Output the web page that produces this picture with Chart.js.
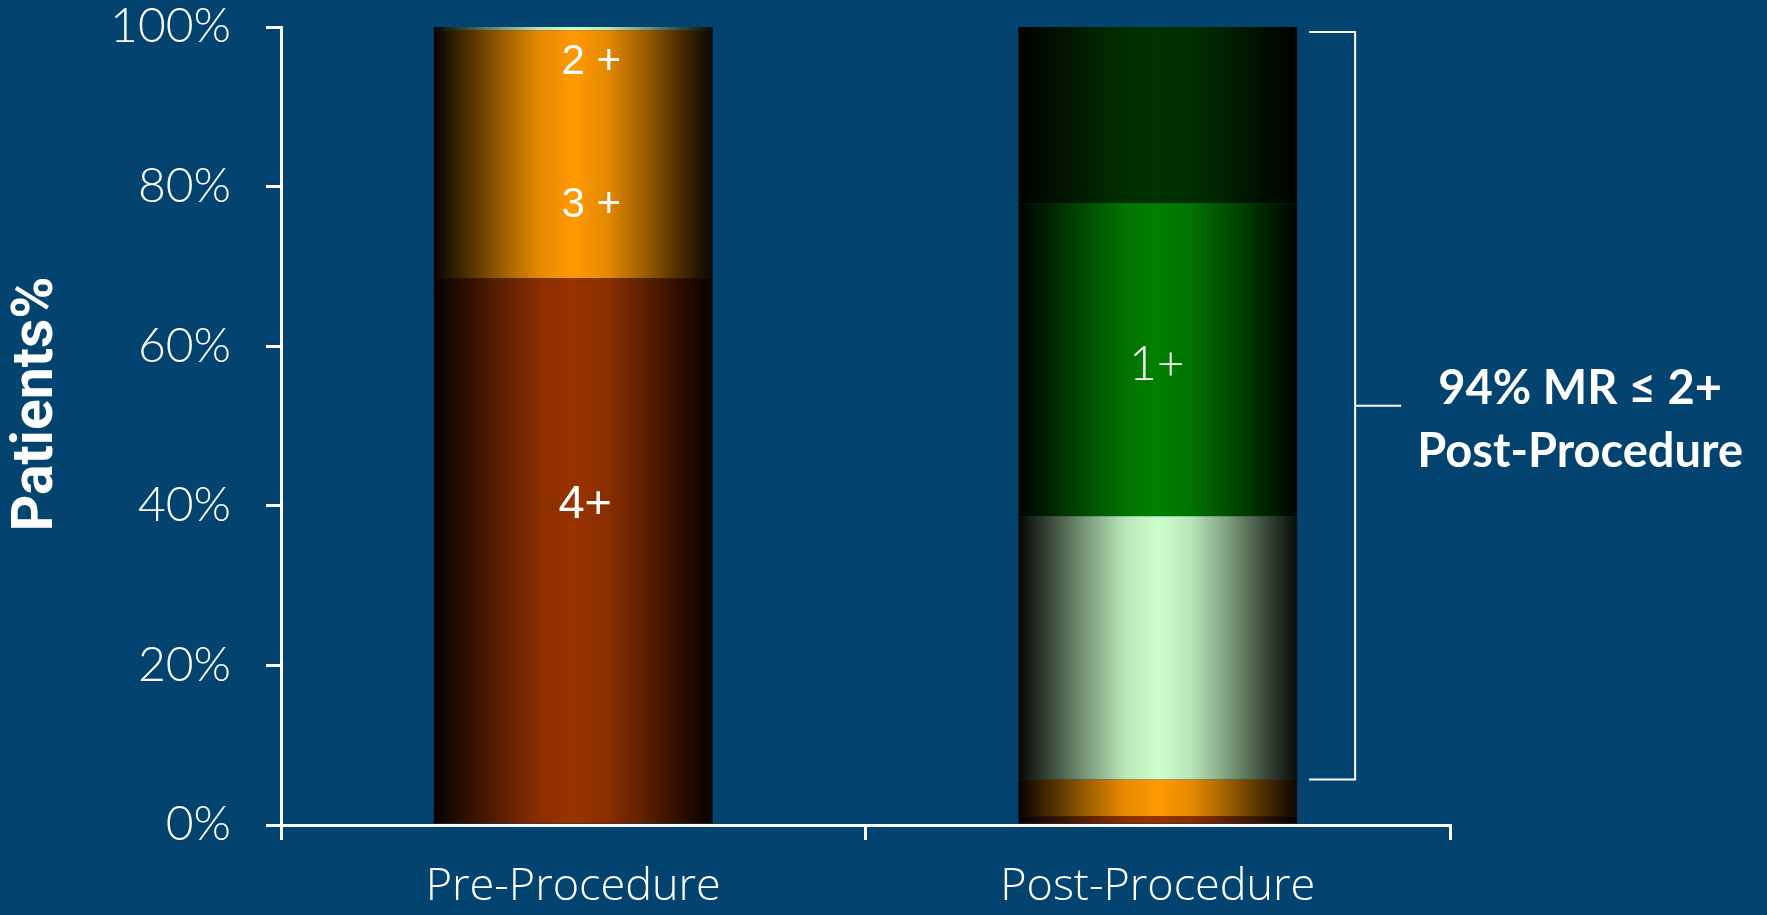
<!DOCTYPE html>
<html>
<head>
<meta charset="utf-8">
<script src="https://cdn.jsdelivr.net/npm/chart.js@4.4.1/dist/chart.umd.min.js"></script>
<style>
  html, body { margin: 0; padding: 0; background: #02436f; }
  #wrap { width: 1767px; height: 915px; }
</style>
</head>
<body>
<div id="wrap"><canvas id="c" width="1767" height="915"></canvas></div>
<script>
// MR grade distribution, % of patients, per stage
const categories = ['Pre-Procedure', 'Post-Procedure'];
const gradeNames = ['4+', '3+', '2+', '1+', '0'];
const mr4 = [68.5, 1.1];
const mr3 = [31.1, 4.6];
const mr2 = [0.4, 33.0];
const mr1 = [0, 39.2];
const mr0 = [0, 22.1];
const yTickValues = [0, 20, 40, 60, 80, 100];

const gradeColors = ['#993300', '#ff9900', '#ccffcc', '#008000', '#003300'];
const BAR_PCT = 0.477;

// cylinder-like shading across each bar: [position, brightness]
const shade = [[0, 0.0], [0.04, 0.12], [0.12, 0.3], [0.25, 0.62], [0.38, 0.9],
               [0.5, 1], [0.62, 0.9], [0.75, 0.62], [0.88, 0.3], [0.96, 0.12], [1, 0.05]];

function hexToRgb(h) {
  const n = parseInt(h.slice(1), 16);
  return [(n >> 16) & 255, (n >> 8) & 255, n & 255];
}

function barFill(ctx) {
  const chart = ctx.chart;
  const base = gradeColors[ctx.datasetIndex];
  const xs = chart.scales.x;
  if (ctx.type !== 'data' || !chart.chartArea || !xs) return base;
  const cx = xs.getPixelForValue(ctx.dataIndex);
  const half = xs.width / categories.length * BAR_PCT / 2;
  const g = chart.ctx.createLinearGradient(cx - half, 0, cx + half, 0);
  const [r, gr, b] = hexToRgb(base);
  shade.forEach(([p, f]) => g.addColorStop(p, `rgb(${Math.round(r * f)},${Math.round(gr * f)},${Math.round(b * f)})`));
  return g;
}

// grade captions written inside the bars (y given in axis units)
const notes = [
  { bar: 0, text: '2 +', at: 95.6, dx: 18, font: '42px "Liberation Sans"' },
  { bar: 0, text: '3 +', at: 77.6, dx: 18, font: '42px "Liberation Sans"' },
  { bar: 0, text: '4+',  at: 40.1, dx: 12, font: '47px "Liberation Sans"' },
  { bar: 1, text: '1+',  at: 57.7, dx: -1, font: '300 48px Lato' }
];

const overlay = {
  id: 'overlay',
  afterDatasetsDraw(chart) {
    const { ctx, scales: { x, y } } = chart;
    ctx.save();
    ctx.fillStyle = '#ffffff';
    ctx.textAlign = 'center';
    ctx.textBaseline = 'middle';
    notes.forEach(n => {
      ctx.font = n.font;
      ctx.fillText(n.text, x.getPixelForValue(n.bar) + n.dx, y.getPixelForValue(n.at));
    });

    // bracket spanning the MR <= 2+ share of the post-procedure bar
    const half = x.width / categories.length * BAR_PCT / 2;
    const right = x.getPixelForValue(1) + half;
    const low = mr4[1] + mr3[1];
    const yTop = y.getPixelForValue(100) + 5;
    const yBot = y.getPixelForValue(low);
    const x0 = right + 12, x1 = right + 58, x2 = right + 104;
    const mid = (yTop + yBot) / 2;
    ctx.strokeStyle = '#ffffff';
    ctx.lineWidth = 2;
    ctx.beginPath();
    ctx.moveTo(x0, yTop); ctx.lineTo(x1, yTop); ctx.lineTo(x1, yBot); ctx.lineTo(x0, yBot);
    ctx.moveTo(x1, mid); ctx.lineTo(x2, mid);
    ctx.stroke();

    const share = Math.round(mr2[1] + mr1[1] + mr0[1]);
    ctx.font = 'bold 47px Lato';
    ctx.textBaseline = 'alphabetic';
    ctx.fillText(`${share}% MR \u2264 2+`, x2 + 179, mid - 2);
    ctx.fillText('Post-Procedure', x2 + 179, mid + 61);
    ctx.restore();
  }
};

const series = [mr4, mr3, mr2, mr1, mr0];

new Chart(document.getElementById('c'), {
  type: 'bar',
  data: {
    labels: categories,
    datasets: series.map((vals, i) => ({
      label: gradeNames[i],
      data: vals,
      backgroundColor: barFill,
      borderWidth: 0,
      barPercentage: BAR_PCT,
      categoryPercentage: 1
    }))
  },
  options: {
    responsive: false,
    animation: false,
    devicePixelRatio: 1,
    layout: { padding: { left: 0, top: 0, right: 317, bottom: 0 } },
    plugins: { legend: { display: false }, tooltip: { enabled: false } },
    scales: {
      x: {
        stacked: true,
        grid: { drawOnChartArea: false, drawTicks: true, tickLength: 15, color: '#ffffff', lineWidth: 3, offset: true },
        border: { display: true, color: '#ffffff', width: 3 },
        ticks: { color: '#ffffff', font: { family: '"Open Sans", Lato', weight: 300, size: 45 }, padding: 20 },
        afterFit(s) { s.height = 90; }
      },
      y: {
        stacked: true,
        min: 0,
        max: 100,
        afterBuildTicks(s) { s.ticks = yTickValues.map(v => ({ value: v })); },
        grid: { drawOnChartArea: false, drawTicks: true, tickLength: 15, color: '#ffffff', lineWidth: 3 },
        border: { display: true, color: '#ffffff', width: 3 },
        ticks: {
          color: '#ffffff',
          font: { family: 'Lato', weight: 300, size: 48 },
          padding: 35,
          callback: v => v + '%'
        },
        title: {
          display: true,
          text: 'Patients%',
          color: '#ffffff',
          font: { family: 'Roboto', weight: 'bold', size: 57 },
          padding: { top: 4, bottom: 0 }
        },
        afterFit(s) {
          s.width = 281;
          // keep the plot top at the 100% line, independent of label padding
          s.paddingTop = 27;
          s.paddingBottom = 27;
        },
        afterUpdate(s) {
          // axis title sits a little above the plot's vertical centre
          if (s._titleLifted) return;
          s._titleLifted = true;
          const drawTitle = s.drawTitle.bind(s);
          s.drawTitle = function () {
            const c = this.ctx;
            c.save();
            c.translate(0, -22);
            drawTitle();
            c.restore();
          };
        }
      }
    }
  },
  plugins: [overlay]
});
</script>
</body>
</html>
